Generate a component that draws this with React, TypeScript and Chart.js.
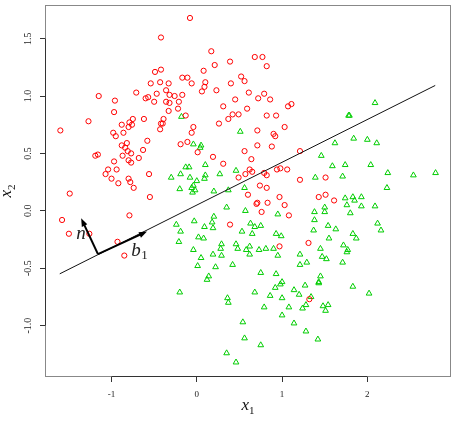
import React, { useEffect, useRef } from "react";
import { Chart, registerables } from "chart.js";
Chart.register(...registerables);

// class 1 (red circles)
const redX = [-0.42,-0.49,-0.42,-0.43,-0.33,-0.54,-0.17,-0.11,-0.36,-0.71,-1.15,-0.96,-0.60,-0.57,-0.47,-0.32,-0.26,-0.17,-0.50,-0.36,-0.32,-0.21,-0.22,-0.33,-0.97,-1.27,-1.60,-0.75,-0.79,-0.76,-0.80,-0.88,-0.62,-0.39,-0.42,-0.40,-0.43,-0.86,-0.98,-0.95,-0.58,-0.19,-0.82,-0.88,-0.84,-0.63,-0.81,-0.77,-1.16,-1.19,-0.87,-0.68,-0.80,-0.97,-0.77,-1.04,-0.94,-1.07,-0.56,-1.00,-0.80,-0.78,-0.92,-0.74,-1.49,-0.13,-0.08,0.17,0.68,0.77,0.82,0.21,0.39,0.08,-0.06,0.10,0.09,0.06,0.23,0.40,0.52,0.56,0.61,0.79,0.72,0.86,0.45,0.31,0.59,1.07,1.11,0.42,0.49,0.37,0.82,0.93,0.26,-0.04,-0.06,0.71,1.03,0.90,0.92,-0.11,0.71,0.88,0.01,0.56,0.19,0.64,0.31,0.62,0.65,0.57,0.49,0.79,0.82,0.94,0.98,1.06,1.21,1.21,0.74,0.82,1.51,1.51,1.43,1.61,-0.55,-1.58,-0.79,-1.50,-1.26,-0.93,-0.85,0.60,0.71,0.70,0.83,0.97,1.03,0.76,1.08,0.39,0.97,1.31,1.32];
const redY = [1.51,1.21,1.23,1.12,1.11,1.11,1.16,1.16,1.05,1.03,1.00,0.96,0.98,0.99,1.02,1.01,1.00,1.01,0.95,0.95,0.94,0.95,0.89,0.87,0.86,0.78,0.70,0.80,0.77,0.75,0.73,0.75,0.80,0.80,0.76,0.76,0.71,0.68,0.68,0.65,0.61,0.58,0.59,0.57,0.55,0.53,0.52,0.50,0.49,0.48,0.48,0.46,0.44,0.43,0.42,0.36,0.36,0.32,0.32,0.28,0.28,0.25,0.24,0.20,0.15,0.83,1.68,1.39,1.34,1.34,1.26,1.27,1.30,1.22,1.11,1.12,1.08,1.04,1.05,1.11,1.17,1.13,1.03,1.02,0.98,0.97,0.97,0.91,0.89,0.91,0.93,0.84,0.84,0.80,0.83,0.83,0.76,0.73,0.68,0.70,0.73,0.67,0.65,0.60,0.57,0.56,0.51,0.52,0.47,0.45,0.41,0.36,0.34,0.32,0.29,0.33,0.31,0.36,0.37,0.36,0.52,0.27,0.22,0.20,0.29,0.14,0.12,0.09,0.12,-0.08,-0.04,-0.20,-0.20,-0.27,-0.39,0.14,0.07,0.06,0.07,0.12,0.05,-0.01,-0.04,-0.12,-0.31,-0.28,-0.77];

// class 2 (green triangles)
const greenX = [-0.18,-0.30,-0.19,-0.20,0.51,-0.04,0.05,0.04,-0.13,-0.09,0.10,-0.08,0.10,0.09,0.27,0.46,0.00,-0.04,-0.06,-0.02,-0.05,0.56,0.20,0.37,1.39,2.09,1.79,1.78,1.84,2.00,2.11,1.62,1.46,1.59,1.74,2.04,1.71,2.24,2.54,2.80,2.23,-0.24,-0.19,-0.21,-0.20,0.35,0.57,0.95,0.20,-0.03,0.18,0.09,0.19,0.63,0.68,0.75,0.53,0.65,0.93,0.99,0.02,0.08,0.29,0.46,0.28,0.48,0.62,0.58,0.62,0.73,0.81,0.90,-0.04,0.19,0.29,0.95,0.05,1.21,1.21,1.29,0.01,0.22,0.42,0.75,0.93,0.14,0.12,1.00,0.98,0.92,1.27,1.14,0.68,0.86,1.20,1.34,0.36,0.37,1.00,1.28,1.24,0.79,1.08,1.00,1.14,1.28,0.54,0.56,0.75,1.42,0.35,0.46,1.74,1.83,1.93,1.85,1.76,1.93,2.09,1.50,1.38,1.50,1.80,1.38,2.12,1.54,1.63,1.37,2.16,1.83,1.87,1.55,1.72,1.77,1.76,1.45,1.47,1.52,1.71,1.45,1.43,1.43,1.83,2.02,1.48,1.54,1.51];
const greenY = [0.82,0.29,0.32,0.19,0.69,0.58,0.57,0.55,0.38,0.38,0.40,0.29,0.31,0.28,0.32,0.35,0.26,0.22,0.20,0.18,0.16,0.20,0.17,0.18,0.29,0.94,0.83,0.83,0.63,0.62,0.59,0.59,0.48,0.39,0.40,0.40,0.30,0.33,0.31,0.33,0.20,-0.12,-0.18,-0.27,-0.71,0.03,0.00,-0.03,-0.05,-0.09,-0.10,-0.14,-0.15,-0.11,-0.14,-0.13,-0.18,-0.20,-0.20,-0.22,-0.23,-0.24,-0.29,-0.29,-0.33,-0.33,-0.31,-0.34,-0.38,-0.34,-0.33,-0.33,-0.34,-0.38,-0.39,-0.39,-0.41,-0.38,-0.47,-0.45,-0.48,-0.49,-0.47,-0.54,-0.55,-0.57,-0.60,-0.62,-0.64,-0.67,-0.65,-0.69,-0.71,-0.74,-0.73,-0.75,-0.76,-0.80,-0.76,-0.82,-0.85,-0.84,-0.84,-0.91,-0.98,-1.05,-0.97,-1.11,-1.17,-1.12,-1.24,-1.32,0.11,0.12,0.12,0.09,0.05,0.04,0.04,0.03,-0.01,-0.01,-0.02,-0.08,-0.11,-0.13,-0.16,-0.17,-0.17,-0.20,-0.24,-0.24,-0.30,-0.34,-0.36,-0.33,-0.40,-0.42,-0.45,-0.57,-0.62,-0.63,-0.66,-0.72,-0.83,-0.82,-0.87];

// separating line and the two vectors
const boundaryX = [-1.607, 2.796];
const boundaryY = [-0.549, 1.092];
const arrowOrigin = [-1.159, -0.377];
const normalTip = [-1.356, -0.066];
const basisTip = [-0.584, -0.181];
const nLabelAt = [-1.413, -0.25];
const bLabelAt = [-0.769, -0.397];

const xTicks = [-1, 0, 1, 2];
const xTickLabels = ["-1", "0", "1", "2"];
const yTicks = [-1.0, -0.5, 0.0, 0.5, 1.0, 1.5];
const yTickLabels = ["-1.0", "-0.5", "0.0", "0.5", "1.0", "1.5"];
const xRange = [-1.78, 2.981];
const yRange = [-1.448, 1.793];

const SERIF = "'Liberation Serif', 'DejaVu Serif', serif";

function drawArrow(ctx: CanvasRenderingContext2D, x0: number, y0: number, x1: number, y1: number) {
  const a = Math.atan2(y1 - y0, x1 - x0);
  const L = 8, W = 3;
  const c = Math.cos(a), s = Math.sin(a);
  ctx.beginPath();
  ctx.moveTo(x0, y0);
  ctx.lineTo(x1 - c * L * 0.7, y1 - s * L * 0.7);
  ctx.stroke();
  ctx.beginPath();
  ctx.moveTo(x1, y1);
  ctx.lineTo(x1 - c * L + s * W, y1 - s * L - c * W);
  ctx.lineTo(x1 - c * L - s * W, y1 - s * L + c * W);
  ctx.closePath();
  ctx.fill();
}

const decor = {
  id: "decor",
  afterDraw(chart: any) {
    const { ctx, chartArea: ca, scales } = chart;
    const xs = scales.x, ys = scales.y;
    ctx.save();
    // box
    ctx.strokeStyle = "#888";
    ctx.lineWidth = 1;
    ctx.strokeRect(ca.left + 0.5, ca.top + 0.5, ca.right - ca.left - 1, ca.bottom - ca.top - 1);
    // axis lines across tick range
    ctx.strokeStyle = "#333";
    ctx.beginPath();
    ctx.moveTo(xs.getPixelForValue(xTicks[0]), ca.bottom - 0.5);
    ctx.lineTo(xs.getPixelForValue(xTicks[xTicks.length - 1]), ca.bottom - 0.5);
    ctx.moveTo(ca.left + 0.5, ys.getPixelForValue(yTicks[0]));
    ctx.lineTo(ca.left + 0.5, ys.getPixelForValue(yTicks[yTicks.length - 1]));
    ctx.stroke();
    // y tick labels (rotated)
    ctx.fillStyle = "#222";
    ctx.font = `10px ${SERIF}`;
    ctx.textAlign = "center";
    ctx.textBaseline = "middle";
    yTicks.forEach((v, i) => {
      const py = ys.getPixelForValue(v);
      ctx.save();
      ctx.translate(28.5, py);
      ctx.rotate(-Math.PI / 2);
      ctx.fillText(yTickLabels[i], 0, 0);
      ctx.restore();
    });
    // x axis title
    ctx.fillStyle = "#111";
    ctx.textAlign = "left";
    ctx.textBaseline = "alphabetic";
    const cx = (ca.left + ca.right) / 2;
    ctx.font = `italic 17px ${SERIF}`;
    const wx = ctx.measureText("x").width;
    ctx.font = `11px ${SERIF}`;
    const w1 = ctx.measureText("1").width;
    let sx = cx - (wx + w1) / 2;
    ctx.font = `italic 17px ${SERIF}`;
    ctx.fillText("x", sx, 410);
    ctx.font = `11px ${SERIF}`;
    ctx.fillText("1", sx + wx, 414);
    // y axis title (rotated)
    ctx.save();
    ctx.translate(11, (ca.top + ca.bottom) / 2);
    ctx.rotate(-Math.PI / 2);
    ctx.font = `11px ${SERIF}`;
    const w2 = ctx.measureText("2").width;
    ctx.font = `italic 17px ${SERIF}`;
    sx = -(wx + w2) / 2;
    ctx.fillText("x", sx, 0);
    ctx.font = `11px ${SERIF}`;
    ctx.fillText("2", sx + wx, 4);
    ctx.restore();
    // vectors
    const ox = xs.getPixelForValue(arrowOrigin[0]), oy = ys.getPixelForValue(arrowOrigin[1]);
    ctx.strokeStyle = "#000";
    ctx.fillStyle = "#000";
    ctx.lineWidth = 2;
    drawArrow(ctx, ox, oy, xs.getPixelForValue(normalTip[0]), ys.getPixelForValue(normalTip[1]));
    drawArrow(ctx, ox, oy, xs.getPixelForValue(basisTip[0]), ys.getPixelForValue(basisTip[1]));
    // labels
    ctx.fillStyle = "#222";
    ctx.font = `italic 19px ${SERIF}`;
    ctx.fillText("n", xs.getPixelForValue(nLabelAt[0]), ys.getPixelForValue(nLabelAt[1]));
    const bx = xs.getPixelForValue(bLabelAt[0]), by = ys.getPixelForValue(bLabelAt[1]);
    ctx.fillText("b", bx, by);
    const wb = ctx.measureText("b").width;
    ctx.font = `13px ${SERIF}`;
    ctx.fillText("1", bx + wb + 0.5, by + 3);
    ctx.restore();
  },
};

export default function App() {
  const ref = useRef<HTMLCanvasElement | null>(null);
  useEffect(() => {
    if (!ref.current) return;
    const red = redX.map((x, i) => ({ x, y: redY[i] }));
    const green = greenX.map((x, i) => ({ x, y: greenY[i] }));
    const line = boundaryX.map((x, i) => ({ x, y: boundaryY[i] }));
    const chart = new Chart(ref.current, {
      type: "scatter",
      data: {
        datasets: [
          {
            data: line,
            showLine: true,
            borderColor: "#111",
            borderWidth: 1,
            pointRadius: 0,
            fill: false,
          } as any,
          {
            data: red,
            pointStyle: "circle",
            pointRadius: 2.6,
            borderColor: "#ff0000",
            backgroundColor: "rgba(0,0,0,0)",
            pointBorderWidth: 1,
          } as any,
          {
            data: green,
            pointStyle: "triangle",
            pointRadius: 3.3,
            borderColor: "#00cd00",
            backgroundColor: "rgba(0,0,0,0)",
            pointBorderWidth: 1,
          } as any,
        ],
      },
      options: {
        animation: false,
        responsive: false,
        events: [],
        layout: { padding: { top: 1, right: 0, left: 0, bottom: 0 } },
        plugins: { legend: { display: false }, tooltip: { enabled: false } },
        scales: {
          x: {
            type: "linear",
            min: xRange[0],
            max: xRange[1],
            afterBuildTicks: (s: any) => {
              s.ticks = xTicks.map((v) => ({ value: v }));
            },
            afterFit: (s: any) => {
              s.height = 45;
            },
            grid: { drawOnChartArea: false, drawTicks: true, tickLength: 5, color: "#333" },
            border: { display: false },
            ticks: {
              padding: 7,
              color: "#222",
              font: { family: SERIF, size: 9 },
              maxRotation: 0,
              autoSkip: false,
              callback: (v: any) => {
                const i = xTicks.indexOf(Number(v));
                return i >= 0 ? xTickLabels[i] : "";
              },
            },
          },
          y: {
            type: "linear",
            min: yRange[0],
            max: yRange[1],
            afterBuildTicks: (s: any) => {
              s.ticks = yTicks.map((v) => ({ value: v }));
            },
            afterFit: (s: any) => {
              s.width = 45;
            },
            grid: { drawOnChartArea: false, drawTicks: true, tickLength: 5, color: "#333" },
            border: { display: false },
            ticks: { display: false },
          },
        },
      },
      plugins: [decor],
    });
    return () => chart.destroy();
  }, []);
  return (
    <div style={{ position: "absolute", left: 0, top: 0, width: 456, height: 422, background: "#fff" }}>
      <canvas ref={ref} width={456} height={422} style={{ display: "block", width: 456, height: 422 }} />
    </div>
  );
}
